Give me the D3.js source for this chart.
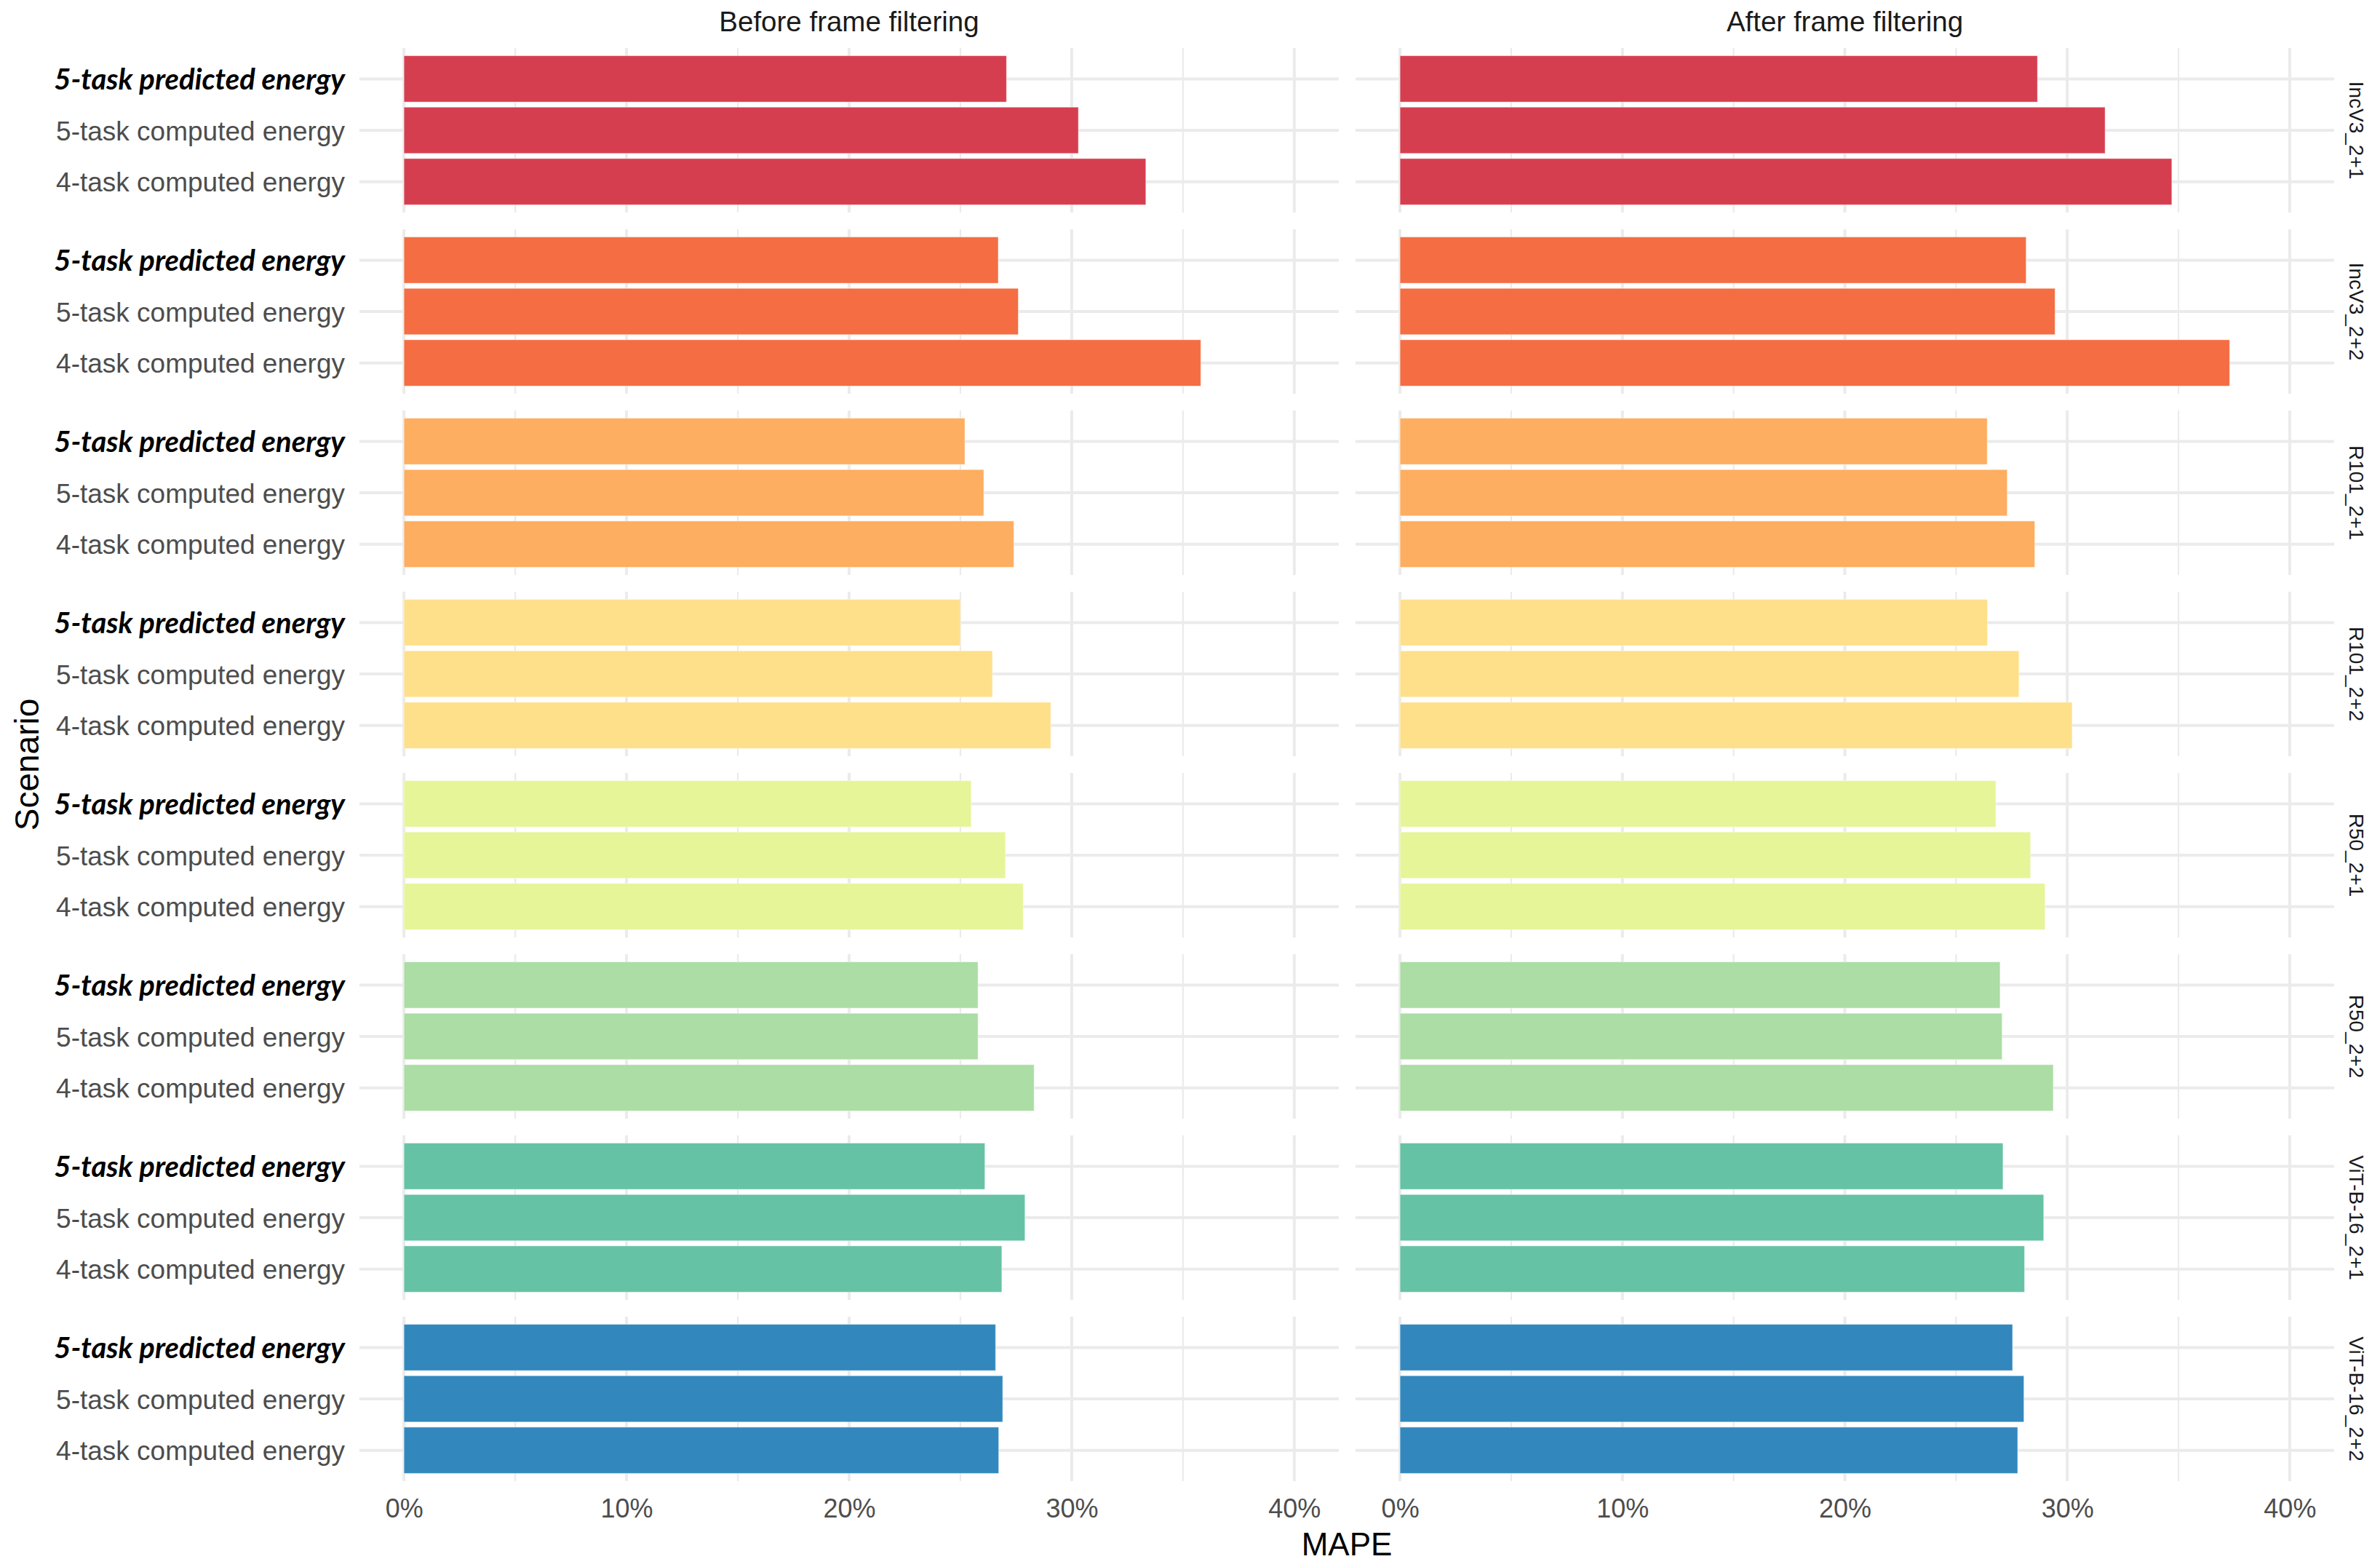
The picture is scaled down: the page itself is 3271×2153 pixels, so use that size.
<!DOCTYPE html>
<html>
<head>
<meta charset="utf-8">
<script src="https://cdn.jsdelivr.net/npm/d3@7"></script>
<style>
  html, body { margin: 0; padding: 0; background: #fff; }
  svg { display: block; }
</style>
</head>
<body>
<svg id="chart" width="3271" height="2153"></svg>
<script>
// ---------------- DATA ----------------
const scenarios = ["IncV3_2+1", "IncV3_2+2", "R101_2+1", "R101_2+2", "R50_2+1", "R50_2+2", "ViT-B-16_2+1", "ViT-B-16_2+2"];
const metrics = ["5-task predicted energy", "5-task computed energy", "4-task computed energy"];
const panels = ["Before frame filtering", "After frame filtering"];
// MAPE values (fraction), rows = scenarios, cols = metrics
const beforeValues = [
  [0.2707, 0.3030, 0.3333],
  [0.2670, 0.2760, 0.3580],
  [0.2520, 0.2605, 0.2740],
  [0.2500, 0.2644, 0.2906],
  [0.2548, 0.2702, 0.2782],
  [0.2579, 0.2579, 0.2831],
  [0.2610, 0.2790, 0.2686],
  [0.2658, 0.2690, 0.2672]
];
const afterValues = [
  [0.2866, 0.3170, 0.3470],
  [0.2815, 0.2945, 0.3730],
  [0.2640, 0.2730, 0.2854],
  [0.2641, 0.2783, 0.3022],
  [0.2679, 0.2835, 0.2900],
  [0.2698, 0.2707, 0.2937],
  [0.2711, 0.2894, 0.2808],
  [0.2754, 0.2805, 0.2777]
];
const xTicks = [0, 0.1, 0.2, 0.3, 0.4];
const xMinorTicks = [0.05, 0.15, 0.25, 0.35];
const palette = ["#D53E4F", "#F46D43", "#FDAE61", "#FEE08B", "#E6F598", "#ABDDA4", "#66C2A5", "#3288BD"];

// ---------------- LAYOUT ----------------
const svg = d3.select("#chart");
const panelTop0 = 66, panelH = 226, panelPitch = 249;
const panelX = [[494, 1840], [1863, 3208]];
const gridColor = "#EBEBEB";
const regFont = "'Liberation Sans', Arial, Helvetica, sans-serif";

const xScales = panelX.map(r => d3.scaleLinear().domain([-0.02, 0.42]).range(r));
const valuesByPanel = [beforeValues, afterValues];

scenarios.forEach((sc, i) => {
  const top = panelTop0 + i * panelPitch;
  const y = d3.scalePoint().domain(metrics).range([top, top + panelH]).padding(0.6);
  const bh = y.step() * 0.9;

  panels.forEach((pn, p) => {
    const x = xScales[p];
    const g = svg.append("g");
    // minor vertical grid
    g.selectAll("line.minor").data(xMinorTicks).join("line")
      .attr("x1", d => x(d)).attr("x2", d => x(d))
      .attr("y1", top).attr("y2", top + panelH)
      .attr("stroke", gridColor).attr("stroke-width", 2.2);
    // major vertical grid
    g.selectAll("line.major").data(xTicks).join("line")
      .attr("x1", d => x(d)).attr("x2", d => x(d))
      .attr("y1", top).attr("y2", top + panelH)
      .attr("stroke", gridColor).attr("stroke-width", 4);
    // horizontal grid
    g.selectAll("line.h").data(metrics).join("line")
      .attr("x1", panelX[p][0]).attr("x2", panelX[p][1])
      .attr("y1", d => y(d)).attr("y2", d => y(d))
      .attr("stroke", gridColor).attr("stroke-width", 4);
    // bars
    g.selectAll("rect").data(metrics.map((m, k) => ({ m, v: valuesByPanel[p][i][k] }))).join("rect")
      .attr("x", x(0))
      .attr("y", d => y(d.m) - bh / 2)
      .attr("width", d => x(d.v) - x(0))
      .attr("height", bh)
      .attr("fill", palette[i])
      .attr("stroke", "rgba(255,255,255,0.45)")
      .attr("stroke-width", 1);
  });

  // y axis labels
  const ax = svg.append("g").attr("transform", "translate(474,0)")
    .call(d3.axisLeft(y).tickSize(0).tickPadding(0));
  ax.select(".domain").remove();
  ax.selectAll("text")
    .attr("dy", "0.36em")
    .attr("fill", d => d === metrics[0] ? "#000" : "#4D4D4D")
    .style("font-family", d => d === metrics[0] ? "Lato, sans-serif" : regFont)
    .style("font-weight", d => d === metrics[0] ? 700 : 400)
    .style("font-style", d => d === metrics[0] ? "italic" : "normal")
    .style("font-size", d => d === metrics[0] ? "40px" : "37px");

  // right strip
  svg.append("text")
    .attr("transform", `translate(3229,${top + panelH / 2}) rotate(90)`)
    .attr("text-anchor", "middle")
    .attr("fill", "#1A1A1A")
    .style("font-family", regFont).style("font-size", "28px")
    .text(sc);
});

// top strips
panels.forEach((pn, p) => {
  svg.append("text")
    .attr("x", (panelX[p][0] + panelX[p][1]) / 2).attr("y", 43)
    .attr("text-anchor", "middle").attr("fill", "#1A1A1A")
    .style("font-family", regFont).style("font-size", "38.5px")
    .text(pn);
});

// x axes
const lastBottom = panelTop0 + (scenarios.length - 1) * panelPitch + panelH;
xScales.forEach(x => {
  const ax = svg.append("g").attr("transform", `translate(0,${lastBottom})`)
    .call(d3.axisBottom(x).tickValues(xTicks).tickFormat(d3.format(".0%")).tickSize(0).tickPadding(0));
  ax.select(".domain").remove();
  ax.selectAll("text")
    .attr("y", 2085 - lastBottom).attr("dy", 0)
    .attr("fill", "#4D4D4D")
    .style("font-family", regFont).style("font-size", "36px");
});

// axis titles
svg.append("text")
  .attr("x", (panelX[0][0] + panelX[1][1]) / 2).attr("y", 2137)
  .attr("text-anchor", "middle").attr("fill", "#000")
  .style("font-family", regFont).style("font-size", "44px")
  .text("MAPE");
svg.append("text")
  .attr("transform", `translate(53,${(panelTop0 + lastBottom) / 2}) rotate(-90)`)
  .attr("text-anchor", "middle").attr("fill", "#000")
  .style("font-family", regFont).style("font-size", "46px")
  .text("Scenario");
</script>
</body>
</html>
